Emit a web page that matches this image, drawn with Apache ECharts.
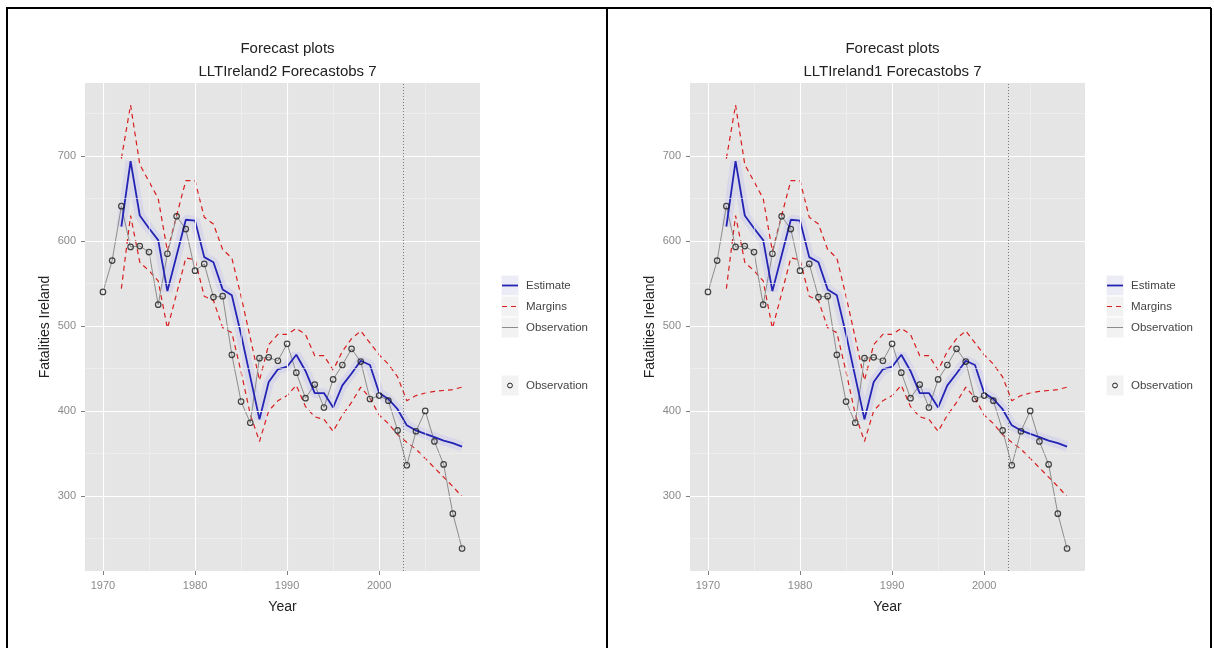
<!DOCTYPE html>
<html>
<head>
<meta charset="utf-8">
<script src="https://cdn.jsdelivr.net/npm/echarts@6/dist/echarts.min.js"></script>
<style>
html,body{margin:0;padding:0;background:#fff;}
#chart{width:1214px;height:648px;}
</style>
</head>
<body>
<div id="chart"></div>
<script>
// ---- data ----
const years = [1970,1971,1972,1973,1974,1975,1976,1977,1978,1979,1980,1981,1982,1983,1984,1985,1986,1987,1988,1989,1990,1991,1992,1993,1994,1995,1996,1997,1998,1999,2000,2001,2002,2003,2004,2005,2006,2007,2008,2009];
const observation = [540,577,641,593,594,587,525,585,629,614,565,573,534,535,466,411,386,462,463,459,479,445,415,431,404,437,454,473,458,414,418,412,377,336,376,400,364,337,279,238];
const estYears = [1972,1973,1974,1975,1976,1977,1978,1979,1980,1981,1982,1983,1984,1985,1986,1987,1988,1989,1990,1991,1992,1993,1994,1995,1996,1997,1998,1999,2000,2001,2002,2003,2004,2005,2006,2007,2008,2009];
const estimate = [617,694,630,615,601,541,583,625,624,581,575,543,536,490,440,390,434,449,452,466,447,421,421,404,430,444,459,454,421,414,402,383,377,373,369,365,362,358];
const upperMargin = [697,760,690,670,650,588,630,671,671,628,620,590,580,535,486,436,478,490,490,497,490,465,465,448,470,485,494,480,466,455,440,412,418,421,423,424,425,428];
const lowerMargin = [544,630,575,565,553,497,538,580,578,535,530,498,492,446,396,364,400,412,418,430,405,393,390,376,395,410,428,415,395,385,372,363,355,344,333,322,311,299];
const forecastStart = 2002.6;
const xTicks = [1970,1980,1990,2000];
const xMinor = [1975,1985,1995,2005];
const yTicks = [300,400,500,600,700];
const yMinor = [250,350,450,550,650,750];
const panelTitles = ['Forecast plots\nLLTIreland2 Forecastobs 7','Forecast plots\nLLTIreland1 Forecastobs 7'];
const legendLabels = ['Estimate','Margins','Observation','Observation'];

// ---- layout ----
const panelOffsets = [0, 605];
const gridLeft = 85, gridTop = 83, gridW = 395, gridH = 488;
const font = 'Liberation Sans, Arial, sans-serif';

const pairs = (xs, ys) => ys.map((v, i) => [xs[i], v]);

const grids = [], xAxes = [], yAxes = [], series = [], titles = [], graphics = [];

panelOffsets.forEach((ox, p) => {
  grids.push({left: gridLeft + ox, top: gridTop, width: gridW, height: gridH,
    show: true, backgroundColor: '#E5E5E5', borderWidth: 0, containLabel: false});
  xAxes.push({type: 'value', gridIndex: p, min: 1968.05, max: 2010.95,
    name: 'Year', nameLocation: 'middle', nameGap: 29,
    nameTextStyle: {fontFamily: font, fontSize: 14, color: '#222'},
    axisLine: {show: false},
    axisTick: {show: true, length: 4, customValues: xTicks, lineStyle: {color: '#7f7f7f'}},
    axisLabel: {customValues: xTicks, formatter: v => String(v), color: '#8a8a8a', fontFamily: font, fontSize: 11, margin: 9},
    splitLine: {show: false}});
  yAxes.push({type: 'value', gridIndex: p, min: 211.5, max: 786,
    name: 'Fatalities Ireland', nameLocation: 'middle', nameGap: 33, nameRotate: 90,
    nameTextStyle: {fontFamily: font, fontSize: 14, color: '#222'},
    axisLine: {show: false},
    axisTick: {show: true, length: 4, customValues: yTicks, lineStyle: {color: '#7f7f7f'}},
    axisLabel: {customValues: yTicks, formatter: v => String(v), color: '#8a8a8a', fontFamily: font, fontSize: 11, margin: 9},
    splitLine: {show: false}});
  titles.push({text: panelTitles[p], left: gridLeft + ox + gridW / 2, top: 32, textAlign: 'center',
    textStyle: {fontFamily: font, fontSize: 15, fontWeight: 'normal', color: '#222', lineHeight: 23}});

  const ax = {xAxisIndex: p, yAxisIndex: p};
  // grid lines
  const ml = (arr, key, color, width) => arr.map(v => ({[key]: v, lineStyle: {color, width, type: 'solid'}}));
  series.push(Object.assign({type: 'line', data: [[1970, 500]], symbol: 'none', silent: true, z: 0,
    lineStyle: {opacity: 0},
    markLine: {silent: true, symbol: 'none', label: {show: false}, animation: false,
      data: [].concat(ml(xMinor, 'xAxis', '#F2F2F2', 0.6), ml(yMinor, 'yAxis', '#F2F2F2', 0.6),
        ml(xTicks, 'xAxis', '#FFFFFF', 1.1), ml(yTicks, 'yAxis', '#FFFFFF', 1.1))}}, ax));
  // estimate halo
  series.push(Object.assign({type: 'line', data: pairs(estYears, estimate), symbol: 'none', silent: true, z: 1,
    lineStyle: {color: 'rgba(150,150,255,0.16)', width: 10}}, ax));
  // margins
  series.push(Object.assign({name: 'Margins', type: 'line', data: pairs(estYears, upperMargin), symbol: 'none', z: 2,
    lineStyle: {color: '#D81E1E', width: 1.2, type: [5, 4]}}, ax));
  series.push(Object.assign({name: 'Margins', type: 'line', data: pairs(estYears, lowerMargin), symbol: 'none', z: 2,
    lineStyle: {color: '#D81E1E', width: 1.2, type: [5, 4]}}, ax));
  // observation line
  series.push(Object.assign({name: 'Observation', type: 'line', data: pairs(years, observation), symbol: 'none', z: 3,
    lineStyle: {color: '#8c8c8c', width: 1}}, ax));
  // estimate
  series.push(Object.assign({name: 'Estimate', type: 'line', data: pairs(estYears, estimate), symbol: 'none', z: 4,
    lineStyle: {color: '#2424B4', width: 1.8},
    markLine: {silent: true, symbol: 'none', label: {show: false}, animation: false,
      data: [{xAxis: forecastStart, lineStyle: {color: '#777', width: 1, type: [1, 2]}}]}}, ax));
  // observation points
  series.push(Object.assign({name: 'Observation points', type: 'scatter', data: pairs(years, observation), z: 5,
    symbol: 'circle', symbolSize: 5.5,
    itemStyle: {color: 'rgba(0,0,0,0)', borderColor: '#1a1a1a', borderWidth: 1.2}}, ax));

  // legend (drawn)
  const kx = 501 + ox, kw = 18;
  const keyYs = [275, 296, 317];
  const keyFill = ['#ECECF6', '#F2F2F2', '#F2F2F2'];
  keyYs.forEach((ky, i) => {
    graphics.push({type: 'rect', shape: {x: kx, y: ky, width: kw, height: 21}, style: {fill: keyFill[i], stroke: '#fff', lineWidth: 1}, silent: true});
  });
  graphics.push({type: 'line', shape: {x1: kx + 1, y1: 285.5, x2: kx + kw - 1, y2: 285.5}, style: {stroke: '#2424B4', lineWidth: 1.8}, silent: true});
  graphics.push({type: 'line', shape: {x1: kx + 1, y1: 306.5, x2: kx + kw - 1, y2: 306.5}, style: {stroke: '#D81E1E', lineWidth: 1.2, lineDash: [5, 4]}, silent: true});
  graphics.push({type: 'line', shape: {x1: kx + 1, y1: 327.5, x2: kx + kw - 1, y2: 327.5}, style: {stroke: '#8c8c8c', lineWidth: 1}, silent: true});
  graphics.push({type: 'rect', shape: {x: kx, y: 375, width: kw, height: 21}, style: {fill: '#F2F2F2', stroke: '#fff', lineWidth: 1}, silent: true});
  graphics.push({type: 'circle', shape: {cx: kx + 9, cy: 385.5, r: 2.4}, style: {fill: 'none', stroke: '#222', lineWidth: 1}, silent: true});
  [285.5, 306.5, 327.5, 385.5].forEach((ty, i) => {
    graphics.push({type: 'text', x: kx + kw + 7, y: ty, style: {text: legendLabels[i], fontFamily: font, fontSize: 11.5, fill: '#444', verticalAlign: 'middle', align: 'left'}, silent: true});
  });
});

// frame lines
[[7, 7, 7, 648], [7, 8, 1211, 8], [607, 8, 607, 648], [1211, 8, 1211, 648]].forEach(l => {
  graphics.push({type: 'line', shape: {x1: l[0], y1: l[1], x2: l[2], y2: l[3]}, style: {stroke: '#000', lineWidth: 2}, silent: true, z: 100});
});

const chart = echarts.init(document.getElementById('chart'), null, {renderer: 'canvas'});
chart.setOption({
  animation: false,
  backgroundColor: '#fff',
  title: titles,
  grid: grids,
  xAxis: xAxes,
  yAxis: yAxes,
  series: series,
  graphic: graphics
});
</script>
</body>
</html>
